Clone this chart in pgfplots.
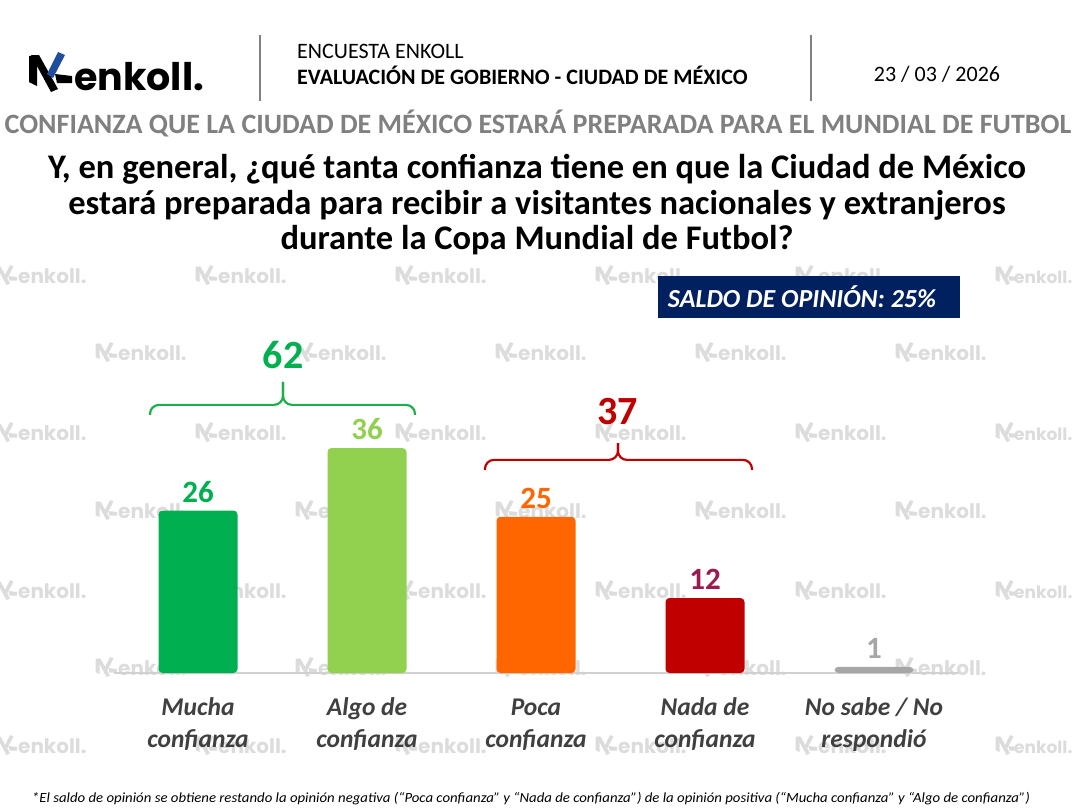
\documentclass[border=0pt]{standalone}
\usepackage{fontspec}
\setmainfont{Carlito}
\newfontfamily\logofont{Poppins}
\usepackage{pgfplots}
\pgfplotsset{compat=1.18}
\definecolor{cMucha}{HTML}{00B050}
\definecolor{cAlgo}{HTML}{92D050}
\definecolor{cPoca}{HTML}{FF6600}
\definecolor{cNada}{HTML}{C00000}
\definecolor{cNS}{HTML}{A6A6A6}
\definecolor{cDoce}{HTML}{9B1B50}
\definecolor{cBrG}{HTML}{1DB04A}
\definecolor{navy}{HTML}{002060}
\definecolor{labgray}{HTML}{404040}
\definecolor{subgray}{HTML}{808080}
\definecolor{wm}{HTML}{DCDCDC}
\definecolor{logoblue}{HTML}{1F4E9C}
\tikzset{
  pics/enksym/.style n args={2}{code={
    \fill[#1] (1,4) -- (9,3) -- (9,34) -- (1,30) -- cycle;
    \fill[#1] (3,3) -- (11,3) -- (30,37) -- (23,40) -- cycle;
    \fill[#2] (30,0) -- (37,3) -- (25,26) -- (19,22) -- cycle;
    \fill[#1] (27,22) -- (44,24) -- (44,31) -- (29,31) -- cycle;
  }}
}
\begin{document}
\begin{tikzpicture}[x=1pt,y=-1pt]
\path[use as bounding box] (0,0) rectangle (1077,811);
% watermarks
\foreach \yy in {275,432,590,745}{
  \foreach \xx in {40,240,440,640,840}{
    \pic[scale=0.5] at (\xx-45,\yy-10) {enksym={wm}{wm}};
    \node[anchor=base west, inner sep=0pt, text=wm, font=\logofont\bfseries\fontsize{20}{20}\selectfont] at (\xx-22,\yy+8) {enkoll.};
  }
  \pic[scale=0.5] at (995,\yy-10) {enksym={wm}{wm}};
  \node[anchor=base west, inner sep=0pt, text=wm, font=\logofont\bfseries\fontsize{17}{17}\selectfont] at (1014,\yy+8) {enkoll.};
  }
\foreach \yy in {352,510,667}{
  \foreach \xx in {140,340,540,740,940}{
    \pic[scale=0.5] at (\xx-45,\yy-10) {enksym={wm}{wm}};
    \node[anchor=base west, inner sep=0pt, text=wm, font=\logofont\bfseries\fontsize{20}{20}\selectfont] at (\xx-22,\yy+8) {enkoll.};
  }}
% header
\pic at (28,52) {enksym={black}{logoblue}};
\node[anchor=base west, inner sep=0pt, font=\logofont\bfseries\fontsize{38}{38}\selectfont] at (74,90) {enkoll.};
\draw[subgray, line width=2pt] (260,35) -- (260,101);
\draw[subgray, line width=2pt] (811,35) -- (811,101);
\node[anchor=base west, inner sep=0pt, font=\fontsize{22}{22}\selectfont] at (297,58) {ENCUESTA ENKOLL};
\node[anchor=base west, inner sep=0pt, font=\bfseries\fontsize{22}{22}\selectfont] at (297,84) {EVALUACIÓN DE GOBIERNO - CIUDAD DE MÉXICO};
\node[anchor=base, inner sep=0pt, font=\fontsize{22}{22}\selectfont] at (937,81) {23 / 03 / 2026};
% subtitle
\node[anchor=base, inner sep=0pt, text=subgray, font=\bfseries\fontsize{28}{28}\selectfont] at (538,133) {CONFIANZA QUE LA CIUDAD DE MÉXICO ESTARÁ PREPARADA PARA EL MUNDIAL DE FUTBOL};
% question
\node[anchor=base, inner sep=0pt, font=\bfseries\fontsize{34.5}{34.5}\selectfont] at (537,178) {Y, en general, ¿qué tanta confianza tiene en que la Ciudad de México};
\node[anchor=base, inner sep=0pt, font=\bfseries\fontsize{34.5}{34.5}\selectfont] at (537,214) {estará preparada para recibir a visitantes nacionales y extranjeros};
\node[anchor=base, inner sep=0pt, font=\bfseries\fontsize{34.5}{34.5}\selectfont] at (537,249) {durante la Copa Mundial de Futbol?};
% saldo box
\fill[navy] (658,276) rectangle (960,318);
\node[text=white, inner sep=0pt, font=\bfseries\itshape\fontsize{26}{26}\selectfont] at (802,297) {SALDO DE OPINIÓN: 25\%};
% footnote
\node[anchor=base, inner sep=0pt] at (531,802) {\resizebox{998pt}{\height}{\itshape\fontsize{14}{14}\selectfont *El saldo de opinión se obtiene restando la opinión negativa (“Poca confianza” y “Nada de confianza”) de la opinión positiva (“Mucha confianza” y “Algo de confianza”)}};
% chart
\begin{axis}[
  at={(113.5pt,-673pt)}, anchor=south west,
  scale only axis, width=845pt, height=250pt,
  xmin=-0.5, xmax=4.5, ymin=0, ymax=40,
  clip=false,
  axis line style={draw=none},
  ytick=\empty,
  xtick={0,1,2,3,4},
  xticklabels={\strut Mucha\\confianza, \strut Algo de\\confianza, \strut Poca\\confianza, \strut Nada de\\confianza, \strut No sabe / No\\respondió},
  major tick length=0pt,
  xticklabel style={align=center, text=labgray, font=\bfseries\itshape\fontsize{25.5}{32}\selectfont, yshift=-17pt},
  ybar, bar width=79pt, bar shift=0pt,
  /pgf/number format/assume math mode=true,
  nodes near coords,
  every node near coord/.append style={font=\bfseries\fontsize{31}{31}\selectfont, anchor=south, inner sep=2pt, yshift=6pt},
]
\draw[black!18, line width=1.2pt] (axis cs:-0.5,0) -- (axis cs:4.5,0);
\addplot[fill=cMucha, draw=none, rounded corners=4pt, every node near coord/.append style={text=cMucha}] coordinates {(0,26)};
\addplot[fill=cAlgo, draw=none, rounded corners=4pt, every node near coord/.append style={text=cAlgo}] coordinates {(1,36)};
\addplot[fill=cPoca, draw=none, rounded corners=4pt, every node near coord/.append style={text=cPoca}] coordinates {(2,25)};
\addplot[fill=cNada, draw=none, rounded corners=4pt, every node near coord/.append style={text=cDoce}] coordinates {(3,12)};
\addplot[fill=cNS, draw=none, rounded corners=4pt, every node near coord/.append style={text=cNS}] coordinates {(4,1)};
% brackets
\draw[cBrG, line width=2.2pt, rounded corners=9pt] (axis cs:-0.284,41.3) -- (axis cs:-0.284,42.9) -- (axis cs:0.503,42.9) -- (axis cs:0.503,46.6);
\draw[cBrG, line width=2.2pt, rounded corners=9pt] (axis cs:1.284,41.3) -- (axis cs:1.284,42.9) -- (axis cs:0.503,42.9) -- (axis cs:0.503,46.6);
\node[text=cMucha, font=\bfseries\fontsize{40}{40}\selectfont] at (axis cs:0.503,50.9) {62};
\draw[cNada, line width=2.2pt, rounded corners=9pt] (axis cs:1.698,32.5) -- (axis cs:1.698,34.1) -- (axis cs:2.485,34.1) -- (axis cs:2.485,36.8);
\draw[cNada, line width=2.2pt, rounded corners=9pt] (axis cs:3.278,32.5) -- (axis cs:3.278,34.1) -- (axis cs:2.485,34.1) -- (axis cs:2.485,36.8);
\node[text=cNada, font=\bfseries\fontsize{40}{40}\selectfont] at (axis cs:2.485,41.8) {37};
\end{axis}
\end{tikzpicture}
\end{document}
